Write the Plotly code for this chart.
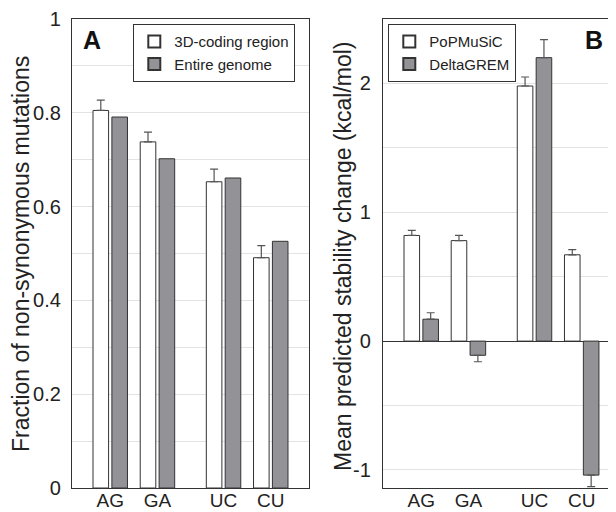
import plotly.graph_objects as go

# ---- data ----
categories = ["AG", "GA", "UC", "CU"]

frac_3d = [0.805, 0.738, 0.653, 0.491]
frac_3d_err = [0.022, 0.021, 0.027, 0.026]
frac_genome = [0.791, 0.702, 0.661, 0.526]

popmusic = [0.82, 0.78, 1.98, 0.67]
popmusic_err = [0.04, 0.04, 0.07, 0.04]
deltagrem = [0.17, -0.11, 2.20, -1.04]
deltagrem_err = [0.05, 0.05, 0.14, 0.09]

y_ticks_a = [0, 0.2, 0.4, 0.6, 0.8, 1]
y_ticks_b = [-1, 0, 1, 2]

# layout-only: category positions on the numeric x axis (gap between GA and UC)
xpos = [1, 2, 3.4, 4.4]

# page body has an 8px margin; figure sized so it ends at the window edge
OFF = 8
W, H = 616 - OFF, 512 - OFF
FONT = "Liberation Sans, Arial, sans-serif"
WHITE_FILL = "#ffffff"
GRAY_FILL = "#939397"
EDGE = "#333333"
ERRC = "#555555"

def px_x(p):
    return (p - OFF) / W

def px_y(p):
    return 1 - (p - OFF) / H

fig = go.Figure()

# Panel A
fig.add_trace(go.Bar(
    x=xpos, y=frac_3d, name="3D-coding region",
    marker=dict(color=WHITE_FILL, line=dict(color=EDGE, width=1)),
    error_y=dict(type="data", array=frac_3d_err, arrayminus=[0]*4, symmetric=False,
                 color=ERRC, thickness=1.2, width=4),
    xaxis="x", yaxis="y", legend="legend", offsetgroup="a1",
))
fig.add_trace(go.Bar(
    x=xpos, y=frac_genome, name="Entire genome",
    marker=dict(color=GRAY_FILL, line=dict(color=EDGE, width=1)),
    xaxis="x", yaxis="y", legend="legend", offsetgroup="a2",
))

# Panel B
def up_err(vals, errs):
    return [e if v >= 0 else 0 for v, e in zip(vals, errs)]

def down_err(vals, errs):
    return [e if v < 0 else 0 for v, e in zip(vals, errs)]

fig.add_trace(go.Bar(
    x=xpos, y=popmusic, name="PoPMuSiC",
    marker=dict(color=WHITE_FILL, line=dict(color=EDGE, width=1)),
    error_y=dict(type="data", array=up_err(popmusic, popmusic_err),
                 arrayminus=down_err(popmusic, popmusic_err), symmetric=False,
                 color=ERRC, thickness=1.2, width=4),
    xaxis="x2", yaxis="y2", legend="legend2", offsetgroup="b1",
))
fig.add_trace(go.Bar(
    x=xpos, y=deltagrem, name="DeltaGREM",
    marker=dict(color=GRAY_FILL, line=dict(color=EDGE, width=1)),
    error_y=dict(type="data", array=up_err(deltagrem, deltagrem_err),
                 arrayminus=down_err(deltagrem, deltagrem_err), symmetric=False,
                 color=ERRC, thickness=1.2, width=4),
    xaxis="x2", yaxis="y2", legend="legend2", offsetgroup="b2",
))

ydom = [px_y(488), px_y(19)]
axis_line = dict(showline=True, linecolor=EDGE, linewidth=1.3, automargin=False)

fig.update_layout(
    width=W, height=H,
    margin=dict(l=0, r=0, t=0, b=0, autoexpand=False),
    paper_bgcolor="white", plot_bgcolor="white",
    font=dict(family=FONT, color="#222222", size=20),
    barmode="group", bargap=0.2, bargroupgap=0.175,
    xaxis=dict(domain=[px_x(72), px_x(309)], range=[0.19, 5.21],
               tickvals=xpos, ticktext=categories, ticks="", mirror=True,
               showgrid=False, zeroline=False, tickfont=dict(size=19),
               ticklabelstandoff=-5, **axis_line),
    yaxis=dict(domain=ydom, range=[0, 1], tickvals=y_ticks_a,
               ticktext=["0", "0.2", "0.4", "0.6", "0.8", "1"],
               ticks="", mirror=True, showgrid=True, gridcolor="#e3e3e3", gridwidth=1,
               minor=dict(dtick=0.1, showgrid=True, gridcolor="#e3e3e3", gridwidth=1),
               zeroline=False, tickfont=dict(size=20), ticklabelstandoff=6, **axis_line),
    xaxis2=dict(domain=[px_x(383), 1.0], range=[0.19, 0.19 + (616 - 383) / 47.2],
                tickvals=xpos, ticktext=categories, ticks="", mirror=True,
                showgrid=False, zeroline=False, tickfont=dict(size=19), anchor="y2",
                ticklabelstandoff=-5, **axis_line),
    yaxis2=dict(domain=ydom, range=[-1.14, 2.5], tickvals=y_ticks_b,
                ticktext=["-1", "0", "1", "2"], anchor="x2",
                ticks="", showgrid=True, gridcolor="#e3e3e3", gridwidth=1,
                minor=dict(dtick=0.5, showgrid=True, gridcolor="#e3e3e3", gridwidth=1),
                zeroline=True, zerolinecolor=EDGE, zerolinewidth=1.3,
                tickfont=dict(size=20), ticklabelstandoff=7, **axis_line),
    legend=dict(x=px_x(133), y=px_y(24), xanchor="left", yanchor="top",
                bgcolor="white", bordercolor=EDGE, borderwidth=1.3,
                font=dict(size=15, family=FONT), traceorder="normal",
                tracegroupgap=0, itemsizing="constant"),
    legend2=dict(x=px_x(388), y=px_y(24), xanchor="left", yanchor="top",
                 bgcolor="white", bordercolor=EDGE, borderwidth=1.3,
                 font=dict(size=15, family=FONT), traceorder="normal",
                 tracegroupgap=0, itemsizing="constant"),
    showlegend=True,
)

fig.add_annotation(text="Fraction of non-synonymous mutations", xref="paper", yref="paper",
                   x=px_x(21), y=px_y(254), textangle=-90, showarrow=False,
                   xanchor="center", yanchor="middle",
                   font=dict(size=23, family=FONT, color="#222222"))
fig.add_annotation(text="Mean predicted stability change (kcal/mol)", xref="paper", yref="paper",
                   x=px_x(343), y=px_y(256), textangle=-90, showarrow=False,
                   xanchor="center", yanchor="middle",
                   font=dict(size=23, family=FONT, color="#222222"))
fig.add_annotation(text="<b>A</b>", xref="paper", yref="paper",
                   x=px_x(92), y=px_y(40), showarrow=False,
                   xanchor="center", yanchor="middle",
                   font=dict(size=25, family=FONT, color="#111111"))
fig.add_annotation(text="<b>B</b>", xref="paper", yref="paper",
                   x=px_x(594), y=px_y(40), showarrow=False,
                   xanchor="center", yanchor="middle",
                   font=dict(size=25, family=FONT, color="#111111"))

fig.write_html("out.html")
